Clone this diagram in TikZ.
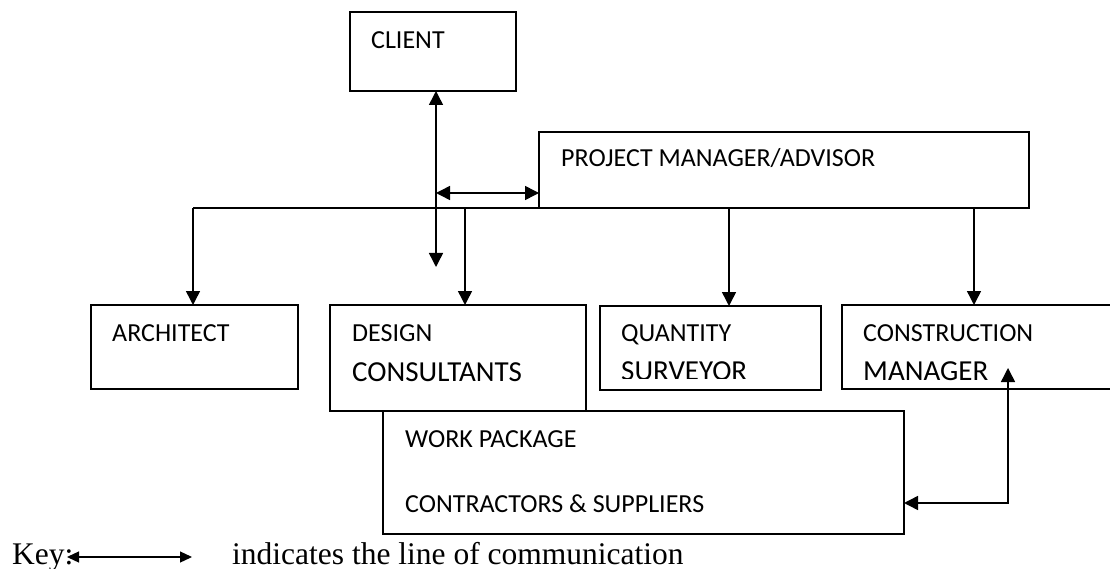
\documentclass[tikz,border=0pt]{standalone}
\usepackage{fontspec}
\setmainfont{Carlito}
\newfontfamily\keyfont{Liberation Serif}
\usetikzlibrary{arrows.meta}
\begin{document}
\begin{tikzpicture}[x=1pt,y=-1pt,
  box/.style={draw, line width=1.5pt, fill=white, inner sep=0pt, outer sep=0pt, anchor=north west},
  lbl/.style={anchor=base west, inner sep=0pt, font=\fontsize{26}{30}\selectfont},
  lblbig/.style={lbl, font=\fontsize{29}{33}\selectfont},
  keytxt/.style={anchor=base west, inner sep=0pt, font=\keyfont\fontsize{31.5}{36}\selectfont},
  link/.style={line width=1.5pt},
  >={Triangle[length=14pt,width=14pt]}]
\clip (0,0) rectangle (1110,569);

% boxes
\node[box, minimum width=166pt, minimum height=79pt] (client) at (350,12) {};
\node[box, minimum width=490pt, minimum height=76pt] (pm) at (539,132) {};
\node[box, minimum width=207pt, minimum height=84pt] (arch) at (91,305) {};
\node[box, minimum width=256pt, minimum height=106pt] (dc) at (330,305) {};
\node[box, minimum width=221pt, minimum height=84pt] (qs) at (600,306) {};
\node[box, minimum width=290pt, minimum height=84pt] (cm) at (842,305) {};
\node[box, minimum width=521pt, minimum height=123pt] (wp) at (383,411) {};

% box texts
\node[lbl] (tClient) at (371,49) {CLIENT};
\node[lbl] (tPM) at (561,167) {PROJECT MANAGER/ADVISOR};
\node[lbl] (tArch) at (112,341) {ARCHITECT};
\node[lbl] (tDes) at (352,341) {DESIGN};
\node[lblbig] (tCons) at (352,381) {CONSULTANTS};
\node[lbl] (tQty) at (621,341) {QUANTITY};
\begin{scope}
  \clip (600,306) rectangle (821,378);
  \node[lblbig] (tSurv) at (621,380) {SURVEYOR};
\end{scope}
\node[lbl] (tCon) at (863,341) {CONSTRUCTION};
\node[lblbig] (tMgr) at (863,380) {MANAGER};
\node[lbl] (tWork) at (405,447) {WORK PACKAGE};
\node[lbl] (tSupp) at (405,512) {CONTRACTORS \& SUPPLIERS};

% client links
\coordinate (cv) at (436,0);
\coordinate (cvEnd) at (436,267);
\coordinate (hJoin) at (436,193);
\draw[link,<->] (client.south -| cv) -- (cvEnd);
\draw[link,<->] (hJoin) -- (pm.west |- hJoin);

% distribution line from the project manager
\coordinate (busL) at (193,208);
\coordinate (busD) at (465,208);
\coordinate (busQ) at (729,208);
\coordinate (busC) at (974,208);
\draw[link] (busL) -- (busL -| pm.west);
\draw[link,->] (busL) -- (arch.north -| busL);
\draw[link,->] (busD) -- (dc.north -| busD);
\draw[link,->] (busQ) -- (qs.north -| busQ);
\draw[link,->] (busC) -- (cm.north -| busC);

% construction manager <-> work package contractors
\coordinate (cmUp) at (1008,368);
\coordinate (elbow) at (1008,503);
\draw[link,<->] (wp.east |- elbow) -- (elbow) -- (cmUp);

% key
\node[keytxt] (tKey) at (12,564) {Key:};
\coordinate (keyL) at (67,557);
\coordinate (keyR) at (192,557);
\draw[line width=1.3pt, {Triangle[length=12pt,width=11pt]}-{Triangle[length=12pt,width=11pt]}] (keyL) -- (keyR);
\node[keytxt] (tInd) at (232,564) {indicates the line of communication};
\end{tikzpicture}
\end{document}
